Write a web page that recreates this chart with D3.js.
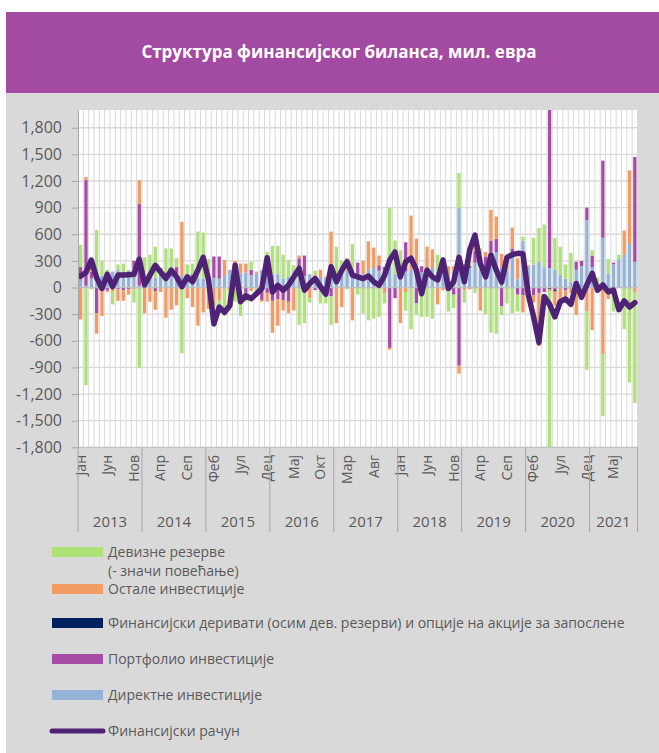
<!DOCTYPE html>
<html>
<head>
<meta charset="utf-8">
<script src="https://cdn.jsdelivr.net/npm/d3@7"></script>
<style>
  html, body { margin: 0; padding: 0; background: #fff; }
  svg { display: block; font-family: "Open Sans", "Noto Sans", sans-serif; }
</style>
</head>
<body>
<svg id="chart" width="659" height="753"></svg>
<script>
/*************************************************************************************************************
 * Data (mil. EUR, monthly Jan 2013 - Sep 2021)
 *************************************************************************************************************/
let years = [2013, 2014, 2015, 2016, 2017, 2018, 2019, 2020, 2021];
let monthNames = ['Јан', 'Феб', 'Мар', 'Апр', 'Мај', 'Јун', 'Јул', 'Авг', 'Сеп', 'Окт', 'Нов', 'Дец'];
let monthsInLastYear = 9;
let labelEvery = 5;

let directInv = [
    90, 20, 100, 60, 130, 140, 180, 200, 170, 190, 120, 20,
    80, 100, 110, 150, 110, 180, 150, 130, 120, 120, 110, 100,
    60, 110, 100, 140, 200, 160, 160, 170, 140, 160, 200, 160,
    150, 150, 100, 120, 190, 150, 130, 150, 100, 120, 100, 130,
    120, 180, 200, 200, 150, 150, 200, 220, 190, 120, 230, 150,
    200, 180, 200, 200, 170, 200, 220, 180, 230, 130, 190, 900,
    240, 220, 280, 200, 190, 400, 400, 230, 200, 377, 100, 528,
    230, 260, 290, 230, 220, 200, 140, 100, 60, 200, 240, 760,
    230, 50, 560, 160, 260, 320, 370, 490, 290
];
let portfolioInv = [
    140, 1190, 80, -290, 0, -30, 0, -20, -30, -20, 180, 920,
    0, 40, -40, 70, 60, 0, 80, 0, 0, 30, 0, 0,
    0, 240, 250, 0, 0, 0, 0, -60, 60, 0, -140, -60,
    -150, -130, -140, -160, 0, 180, 230, 0, -30, 0, 0, -100,
    0, 60, 0, 0, 130, 0, 0, 0, 60, 110, -680, -120,
    0, 330, 0, -180, 70, 0, 0, 0, 0, 0, -80, -880,
    20, 30, 130, 0, 160, 130, 150, -210, 0, 64, -80, -90,
    -40, -90, -60, -50, 1780, -30, 0, -30, 0, 90, 60, 140,
    130, 0, 870, 0, 20, 0, 0, 0, 1180
];
let derivatives = [
    0, 0, 0, 0, 0, 0, 0, 0, 0, 0, 0, 0,
    0, 0, 0, 0, 0, 0, 0, 0, 0, 0, 0, 0,
    0, 0, 0, 0, 0, 0, 0, 0, 0, 0, 0, 0,
    0, 0, 0, 0, 0, 0, 0, 0, 0, 0, 0, 0,
    0, 0, 0, 0, 0, 0, 0, 0, 0, 0, 0, 0,
    0, 0, 0, 0, 0, 0, 0, 0, 0, 0, 0, 0,
    0, 0, 0, 0, 0, 0, 0, 0, 0, 0, 0, 0,
    0, 0, 0, 0, -15, -15, -10, 0, 0, -10, -10, 0,
    0, 0, 0, 0, 0, 0, 0, 0, 0
];
let otherInv = [
    -360, 35, 140, -230, -320, -20, -40, -130, -120, -60, -20, 270,
    -290, -160, -210, -50, -340, -250, -200, 610, -120, -220, -430, -280,
    -240, -200, -140, 170, -40, 140, 110, 100, -40, 20, -20, -100,
    -360, -300, -120, -130, -260, 30, 0, -120, 40, 80, 20, 500,
    -400, -220, 130, -370, 0, 150, 320, 230, 110, -60, -20, 0,
    -400, -50, 610, 350, 0, 260, 210, -190, -30, 110, 50, -90,
    -30, -20, 100, -260, 50, 345, 250, 150, 110, 234, 230, -190,
    20, -80, -600, 0, -30, -160, -160, -100, -60, -300, -40, -270,
    -480, -50, -750, -130, -40, 0, 270, 830, -50
];
let reserves = [
    250, -1100, -20, 590, 170, 60, -150, 60, 100, 10, -150, -910,
    260, 230, 350, 0, 270, 260, 100, -740, 140, 120, 520, 520,
    260, -60, -110, -320, -220, -160, -320, -100, 90, -60, 0, 240,
    320, 320, 270, 190, 60, -420, -400, -50, 50, -180, -180, -320,
    340, 60, -20, 290, -80, -290, -370, -350, -330, -120, 670, 380,
    220, -210, -470, -130, -330, -330, -350, 190, 110, -270, -150, 390,
    -140, 200, -60, 240, -300, -510, -520, -100, -180, -290, -190, 45,
    -60, 300, 380, 480, -1800, 360, 320, 160, 330, 0, -80, -660,
    60, 60, -700, 160, -230, 50, -470, -1070, -1250
];
let financialAccount = [
    130, 170, 310, 110, -10, 150, 10, 140, 140, 145, 150, 320,
    30, 140, 250, 175, 100, 195, 120, 10, 120, 65, 195, 340,
    85, -410, -220, -280, -200, 250, -160, -90, -125, -70, -10, 335,
    -50, 25, -30, 25, 120, 215, -30, 45, 100, 10, -75, 235,
    65, 195, 290, 140, 120, 100, 130, 65, 25, 130, 310, 400,
    120, 290, 330, 195, -70, 195, 120, 85, 310, -10, 65, 340,
    65, 420, 590, 270, 120, 365, 195, 60, 340, 370, 385, 380,
    -80, -330, -620, -100, -190, -330, -160, -130, -190, 45, -110, 30,
    160, -30, 30, -50, -30, -250, -150, -220, -170
];

let yTicks = [-1800, -1500, -1200, -900, -600, -300, 0, 300, 600, 900, 1200, 1500, 1800];

let seriesNames = {
    reserves: 'Девизне резерве',
    other: 'Остале инвестиције',
    derivatives: 'Финансијски деривати (осим дев. резерви) и опције на акције за запослене',
    portfolio: 'Портфолио инвестиције',
    direct: 'Директне инвестиције',
    account: 'Финансијски рачун'
};

let colors = {
    direct: '#95b3d7',
    portfolio: '#a64ca6',
    derivatives: '#002060',
    other: '#f29b62',
    reserves: '#afe278',
    account: '#4e2275'
};

/*************************************************************************************************************
 * Drawing
 *************************************************************************************************************/
let svg = d3.select('#chart');
let W = 659, H = 753;

// panel + header
svg.append('rect').attr('x', 6).attr('y', 93).attr('width', W - 6).attr('height', H - 93).attr('fill', '#d9d9d9');
svg.append('rect').attr('x', 6).attr('y', 12).attr('width', W - 6).attr('height', 81).attr('fill', '#a34aa2');
svg.append('text')
    .attr('x', 339).attr('y', 58)
    .attr('text-anchor', 'middle')
    .attr('fill', '#fff')
    .style('font-weight', 'bold')
    .style('font-size', '17px')
    .text('Структура финансијског биланса, мил. евра');

// categories
let nMonths = (years.length - 1) * 12 + monthsInLastYear;
let categories = d3.range(nMonths).map(i => ({
    idx: i,
    year: years[Math.floor(i / 12)],
    month: monthNames[i % 12]
}));

let rows = categories.map(c => ({
    idx: c.idx,
    direct: directInv[c.idx],
    portfolio: portfolioInv[c.idx],
    derivatives: derivatives[c.idx],
    other: otherInv[c.idx],
    reserves: reserves[c.idx]
}));

let plot = {left: 78, right: 637.5, top: 110, bottom: 447.3};

let x = d3.scaleBand()
    .domain(categories.map(c => c.idx))
    .range([plot.left, plot.right])
    .paddingInner(0.38)
    .paddingOuter(0.19);
let y = d3.scaleLinear().domain([-1800, 2000]).range([plot.bottom, plot.top]);

let step = (plot.right - plot.left) / nMonths;
let fmt = d3.formatLocale({decimal: '.', thousands: ',', grouping: [3], currency: ['', ''], minus: '-'}).format(',');

// plot background
svg.append('rect')
    .attr('x', plot.left).attr('y', plot.top)
    .attr('width', plot.right - plot.left).attr('height', plot.bottom - plot.top)
    .attr('fill', '#fff');

svg.append('clipPath').attr('id', 'clip')
    .append('rect')
    .attr('x', plot.left).attr('y', plot.top)
    .attr('width', plot.right - plot.left).attr('height', plot.bottom - plot.top);

// vertical gridlines at category boundaries
svg.append('g')
    .selectAll('line')
    .data(d3.range(1, nMonths + 1))
    .enter().append('line')
    .attr('x1', d => plot.left + d * step).attr('x2', d => plot.left + d * step)
    .attr('y1', plot.top).attr('y2', plot.bottom)
    .attr('stroke', '#d9d9d9').attr('stroke-width', 1);

// horizontal gridlines
svg.append('g')
    .selectAll('line')
    .data(yTicks)
    .enter().append('line')
    .attr('x1', plot.left).attr('x2', plot.right)
    .attr('y1', d => y(d)).attr('y2', d => y(d))
    .attr('stroke', '#d9d9d9').attr('stroke-width', 1.3);

// stacked bars
let keys = ['direct', 'portfolio', 'derivatives', 'other', 'reserves'];
let stacked = d3.stack().keys(keys).offset(d3.stackOffsetDiverging)(rows);

svg.append('g')
    .attr('clip-path', 'url(#clip)')
    .selectAll('g')
    .data(stacked)
    .enter().append('g')
    .attr('fill', d => colors[d.key])
    .selectAll('rect')
    .data(d => d)
    .enter().append('rect')
    .attr('x', d => x(d.data.idx))
    .attr('width', x.bandwidth())
    .attr('y', d => y(Math.max(d[0], d[1])))
    .attr('height', d => Math.abs(y(d[0]) - y(d[1])));

// zero line
svg.append('line')
    .attr('x1', plot.left).attr('x2', plot.right)
    .attr('y1', y(0)).attr('y2', y(0))
    .attr('stroke', '#bfbfbf').attr('stroke-width', 1.3);

// financial account line
let line = d3.line()
    .x((d, i) => x(i) + x.bandwidth() / 2)
    .y(d => y(d));

svg.append('path')
    .datum(financialAccount)
    .attr('fill', 'none')
    .attr('stroke', colors.account)
    .attr('stroke-width', 5.5)
    .attr('stroke-linejoin', 'round')
    .attr('stroke-linecap', 'round')
    .attr('d', line);

// y axis
let yAxis = svg.append('g')
    .attr('transform', 'translate(' + plot.left + ',0)')
    .call(d3.axisLeft(y).tickValues(yTicks).tickFormat(fmt).tickSize(6).tickSizeOuter(0).tickPadding(10));
yAxis.select('.domain').attr('stroke', '#a6a6a6');
yAxis.selectAll('.tick line').attr('stroke', '#a6a6a6');
yAxis.selectAll('text')
    .attr('fill', '#595959')
    .style('font-size', '16px')
    .style('font-family', '"Open Sans", sans-serif');

// x axis: month labels
svg.append('g')
    .selectAll('text')
    .data(categories.filter(c => c.idx % labelEvery === 0))
    .enter().append('text')
    .attr('transform', d => 'translate(' + (x(d.idx) + x.bandwidth() / 2) + ',' + 455 + ') rotate(-90)')
    .attr('text-anchor', 'end')
    .attr('dy', '0.35em')
    .attr('fill', '#595959')
    .style('font-size', '14px')
    .text(d => d.month);

// x axis: year separators and labels
let yearStarts = years.map((yr, i) => i * 12);
let yearBounds = yearStarts.concat([nMonths]);
svg.append('g')
    .selectAll('line')
    .data(yearBounds)
    .enter().append('line')
    .attr('x1', d => plot.left + d * step).attr('x2', d => plot.left + d * step)
    .attr('y1', plot.bottom).attr('y2', 532)
    .attr('stroke', '#a6a6a6').attr('stroke-width', 1);

svg.append('line')
    .attr('x1', plot.left).attr('x2', plot.right)
    .attr('y1', plot.bottom).attr('y2', plot.bottom)
    .attr('stroke', '#bfbfbf').attr('stroke-width', 1);

svg.append('g')
    .selectAll('text')
    .data(years)
    .enter().append('text')
    .attr('x', (d, i) => plot.left + (yearStarts[i] + Math.min(12, nMonths - yearStarts[i]) / 2) * step)
    .attr('y', 527)
    .attr('text-anchor', 'middle')
    .attr('fill', '#595959')
    .style('font-size', '15px')
    .text(d => d);

// legend
let legendItems = [
    {key: 'reserves', y: 552, extra: '(- значи повећање)'},
    {key: 'other', y: 589},
    {key: 'derivatives', y: 623},
    {key: 'portfolio', y: 659},
    {key: 'direct', y: 695},
    {key: 'account', y: 731}
];

let legend = svg.append('g');
legendItems.forEach(item => {
    if (item.key === 'account') {
        legend.append('line')
            .attr('x1', 52).attr('x2', 103)
            .attr('y1', item.y).attr('y2', item.y)
            .attr('stroke', colors.account)
            .attr('stroke-width', 5)
            .attr('stroke-linecap', 'round');
    } else {
        legend.append('rect')
            .attr('x', 52).attr('y', item.y - 5)
            .attr('width', 51).attr('height', 10)
            .attr('fill', colors[item.key]);
    }
    legend.append('text')
        .attr('x', 108).attr('y', item.y)
        .attr('dy', '0.35em')
        .attr('fill', '#595959')
        .style('font-size', '14px')
        .text(seriesNames[item.key]);
    if (item.extra) {
        legend.append('text')
            .attr('x', 108).attr('y', item.y + 19)
            .attr('dy', '0.35em')
            .attr('fill', '#595959')
            .style('font-size', '14px')
            .text(item.extra);
    }
});
</script>
</body>
</html>
